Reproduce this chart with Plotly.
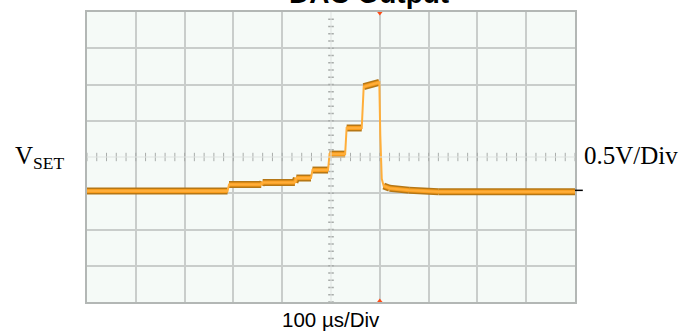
import numpy as np
import plotly.graph_objects as go

# Scope capture: staircase on the output, 100 us/div, 0.5 V/div (relative to V_SET)
t_us = [-500, -212, -209, -143, -140, -74, -71, -41, -38, -6, -3, 29, 32,
        63, 67, 99, 101, 104, 108, 120, 160, 220, 500]
v_out = [-0.47, -0.47, -0.38, -0.38, -0.35, -0.35, -0.29, -0.29, -0.18, -0.18,
         0.04, 0.04, 0.40, 0.40, 0.97, 1.03, 0.30, -0.30, -0.40, -0.43, -0.46,
         -0.48, -0.48]

trigger_us = 100
ground_v = -0.46

x_div = [-400, -300, -200, -100, 100, 200, 300, 400]
y_div = [-1.5, -1.0, -0.5, 0.5, 1.0, 1.5]

grid_col = "#c9cdcb"
fig = go.Figure()

# center graticule: faint lines with minor ticks every 1/5 division
fig.add_shape(type="line", x0=-500, x1=500, y0=0, y1=0, line=dict(color="#dfe3e1", width=1))
fig.add_shape(type="line", x0=0, x1=0, y0=-2, y1=2, line=dict(color="#dfe3e1", width=1))
mx = np.arange(-500, 501, 20)
fig.add_trace(go.Scatter(x=mx, y=np.zeros_like(mx), mode="markers",
                         marker=dict(symbol="line-ns-open", size=6, color="#a9adab",
                                     line=dict(width=1, color="#a9adab")),
                         hoverinfo="skip", showlegend=False))
my = np.arange(-2, 2.001, 0.1)
fig.add_trace(go.Scatter(x=np.zeros_like(my), y=my, mode="markers",
                         marker=dict(symbol="line-ew-open", size=4, color="#a9adab",
                                     line=dict(width=1.5, color="#a9adab")),
                         hoverinfo="skip", showlegend=False))

# noisy band on the flat parts of the trace (segments with a small change)
band_x, band_y = [], []
for i in range(len(t_us) - 1):
    if abs(v_out[i + 1] - v_out[i]) < 0.08:
        band_x += [t_us[i], t_us[i + 1], None]
        band_y += [v_out[i], v_out[i + 1], None]

fig.add_trace(go.Scatter(x=band_x, y=band_y, mode="lines",
                         line=dict(color="#b57716", width=7),
                         hoverinfo="skip", showlegend=False))
fig.add_trace(go.Scatter(x=band_x, y=band_y, mode="lines",
                         line=dict(color="#f99d1c", width=4),
                         hoverinfo="skip", showlegend=False))
# thin bright core over the whole trace, including the edges
fig.add_trace(go.Scatter(x=t_us, y=v_out, mode="lines",
                         line=dict(color="#ffae3a", width=2),
                         showlegend=False))

# trigger position markers
fig.add_trace(go.Scatter(x=[trigger_us, trigger_us], y=[2, -2], mode="markers",
                         marker=dict(symbol=["triangle-down", "triangle-up"], size=7,
                                     color="#ff4a14"),
                         cliponaxis=False, hoverinfo="skip", showlegend=False))

# ground level marker on the right edge
fig.add_shape(type="line", xref="paper", yref="y", x0=1.0, x1=1.016, y0=ground_v, y1=ground_v,
              line=dict(color="black", width=1.5))

fig.add_annotation(text="<b>DAC Output</b>", xref="paper", yref="paper", x=0.577, y=1.005,
                   xanchor="center", yanchor="bottom", showarrow=False,
                   font=dict(family="Liberation Sans, Arial", size=28, color="black"))
fig.add_annotation(text="V<sub>SET</sub>", xref="paper", yref="y", x=-0.152, y=0,
                   xanchor="left", yanchor="middle", showarrow=False,
                   font=dict(family="Liberation Serif, Times New Roman", size=25, color="black"))
fig.add_annotation(text="0.5V/Div", xref="paper", yref="y", x=1.014, y=0.02,
                   xanchor="left", yanchor="middle", showarrow=False,
                   font=dict(family="Liberation Serif, Times New Roman", size=25, color="black"))
fig.add_annotation(text="100 \u00b5s/Div", xref="x", yref="paper", x=0, y=-0.015,
                   xanchor="center", yanchor="top", showarrow=False,
                   font=dict(family="Liberation Sans, Arial", size=20.5, color="black"))

fig.update_xaxes(range=[-500, 500], tickvals=x_div, showticklabels=False, ticks="",
                 showgrid=True, gridcolor=grid_col, gridwidth=1.5, zeroline=False,
                 showline=True, mirror=True, linecolor="#b3b7b5", linewidth=2)
fig.update_yaxes(range=[-2, 2], tickvals=y_div, showticklabels=False, ticks="",
                 showgrid=True, gridcolor=grid_col, gridwidth=1.5, zeroline=False,
                 showline=True, mirror=True, linecolor="#b3b7b5", linewidth=2)

fig.update_layout(width=691, height=331,
                  margin=dict(l=87, r=116, t=10, b=29),
                  paper_bgcolor="white", plot_bgcolor="#f5faf7")

fig.write_html("out.html")
